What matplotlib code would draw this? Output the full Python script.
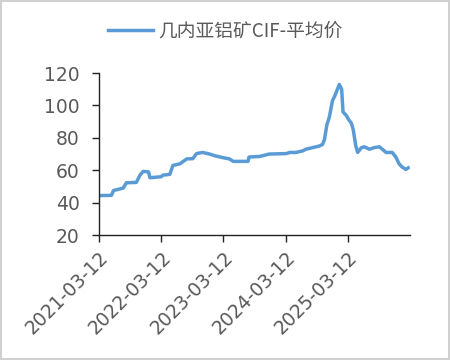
import matplotlib
matplotlib.use("Agg")
import matplotlib.pyplot as plt
import matplotlib.dates as mdates
import pandas as pd

plt.rcParams['font.family'] = ['Noto Sans CJK SC', 'DejaVu Sans']

# Data
dates = ["2021-03-12", "2021-05-24", "2021-06-05", "2021-08-01", "2021-08-20",
         "2021-10-17", "2021-11-08", "2021-11-26", "2021-12-28", "2022-01-05",
         "2022-03-12", "2022-03-23", "2022-05-02", "2022-05-20", "2022-06-30",
         "2022-08-09", "2022-09-14", "2022-10-06", "2022-11-11", "2022-12-22",
         "2023-01-20", "2023-03-01", "2023-04-17", "2023-05-09", "2023-08-04",
         "2023-08-10", "2023-10-08", "2023-10-30", "2023-12-05", "2024-03-15",
         "2024-04-06", "2024-05-12", "2024-06-21", "2024-07-09", "2024-08-18",
         "2024-09-27", "2024-10-15", "2024-10-26", "2024-11-09", "2024-11-24",
         "2024-12-12", "2024-12-26", "2025-01-10", "2025-01-21", "2025-02-04",
         "2025-02-12", "2025-03-02", "2025-03-19", "2025-04-02", "2025-04-13",
         "2025-04-28", "2025-05-09", "2025-05-31", "2025-06-18", "2025-07-17",
         "2025-08-15", "2025-09-13", "2025-10-01", "2025-10-23", "2025-11-28",
         "2025-12-20", "2026-01-07", "2026-01-25", "2026-02-16", "2026-03-02"]
values = [44.4, 44.5, 47.5, 49, 52.3,
          52.5, 57, 59.3, 59, 55.4,
          56, 57, 57.5, 63, 64,
          67, 67.2, 70.3, 71, 70,
          69, 68, 67, 65.5, 65.5,
          68.2, 68.5, 69, 70, 70.3,
          71, 71, 72, 73, 74,
          75, 76, 79, 88, 93,
          103, 106, 110, 113, 110,
          96, 94, 91, 89, 85,
          75, 71, 74, 74.5, 73,
          74, 74.5, 73, 71, 71,
          68, 64, 62, 60.5, 61.5]
tick_dates = ["2021-03-12", "2022-03-12", "2023-03-12", "2024-03-12", "2025-03-12"]
series_name = "几内亚铝矿CIF-平均价"

x = pd.to_datetime(dates)
text_color = "#595959"

fig = plt.figure(figsize=(4.5, 3.6), dpi=100)
fig.patch.set_edgecolor("#d0d0d0")
fig.patch.set_linewidth(1.5)
ax = fig.add_axes([0.22, 0.347, 0.691, 0.45])

ax.plot(x, values, color="#5B9BD5", linewidth=2.5, label=series_name)

ax.set_ylim(20, 120)
ax.set_yticks([20, 40, 60, 80, 100, 120])
ax.set_xlim(pd.Timestamp("2021-03-12"), pd.Timestamp("2026-03-12"))
ax.set_xticks(pd.to_datetime(tick_dates))
ax.xaxis.set_major_formatter(mdates.DateFormatter("%Y-%m-%d"))

for s in ["top", "right"]:
    ax.spines[s].set_visible(False)
for s in ["left", "bottom"]:
    ax.spines[s].set_color("#222222")
    ax.spines[s].set_linewidth(1.0)

ax.tick_params(axis="y", colors=text_color, length=5, width=1, direction="out", pad=9)
ax.tick_params(axis="x", colors=text_color, length=5, width=1, direction="out", pad=4)
ax.tick_params(axis="both", color="#222222")
for lbl in ax.get_yticklabels():
    lbl.set_fontfamily(["DejaVu Sans"])
    lbl.set_fontsize(13.5)
for lbl in ax.get_xticklabels():
    lbl.set_fontfamily(["DejaVu Sans"])
    lbl.set_fontsize(13.5)
    lbl.set_rotation(45)
    lbl.set_ha("right")
    lbl.set_rotation_mode("anchor")

leg = fig.legend(loc="center", bbox_to_anchor=(0.5, 0.915), frameon=False,
                 fontsize=13.5, handlelength=2.4, handletextpad=0.3,
                 labelcolor=text_color)

fig.savefig("out.png", dpi=100)
